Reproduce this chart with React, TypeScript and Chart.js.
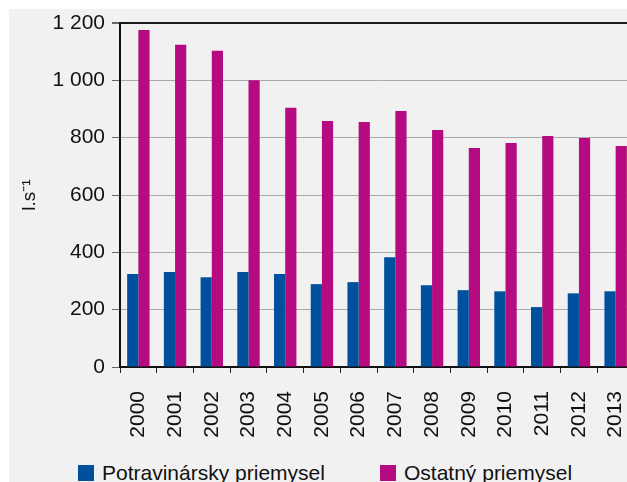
import React, { useEffect, useRef } from "react";
import { Chart, registerables } from "chart.js";

Chart.register(...registerables);

const years = ["2000","2001","2002","2003","2004","2005","2006","2007","2008","2009","2010","2011","2012","2013"];
const potravinarsky = [324, 331, 313, 331, 324, 289, 296, 383, 285, 268, 264, 209, 257, 264];
const ostatny = [1176, 1124, 1103, 1000, 904, 858, 855, 893, 827, 764, 781, 806, 799, 771];
const seriesNames = ["Potravinársky priemysel", "Ostatný priemysel"];
const yTitle = "l.s\u207B\u00B9";

const BLUE = "#00509e";
const MAGENTA = "#b60a80";
const FONT = "'Liberation Sans', Arial, Helvetica, sans-serif";

export default function App() {
  const ref = useRef<HTMLCanvasElement | null>(null);
  useEffect(() => {
    if (!ref.current) return;
    const chart = new Chart(ref.current, {
      type: "bar",
      data: {
        labels: years,
        datasets: [
          { label: seriesNames[0], data: potravinarsky, backgroundColor: BLUE, borderWidth: 0 },
          { label: seriesNames[1], data: ostatny, backgroundColor: MAGENTA, borderWidth: 0 },
        ],
      },
      options: {
        responsive: false,
        animation: false,
        devicePixelRatio: 1,
        layout: { padding: { top: 14, left: 0, right: 0, bottom: 0 } },
        datasets: { bar: { categoryPercentage: 0.61, barPercentage: 1 } },
        plugins: { legend: { display: false }, tooltip: { enabled: false } },
        scales: {
          x: {
            afterFit: (s: any) => { s.height = 73; s.paddingLeft = 0; s.paddingRight = 0; },
            grid: { drawOnChartArea: false, drawTicks: true, tickLength: 6, tickColor: "#222", offset: true },
            border: { color: "#111", width: 2 },
            ticks: { color: "#111", font: { family: FONT, size: 21 }, minRotation: 90, maxRotation: 90, padding: 18, autoSkip: false },
          },
          y: {
            min: 0,
            max: 1200,
            afterFit: (s: any) => { s.width = 111; s.paddingTop = 0; s.paddingBottom = 0; },
            grid: {
              color: (c: any) => (c.tick && c.tick.value === 1200 ? "#1a1a1a" : "#a9a9a9"),
              lineWidth: (c: any) => (c.tick && c.tick.value === 1200 ? 2 : 1),
              tickLength: 8,
              tickColor: "#666",
            },
            border: { color: "#111", width: 2 },
            ticks: {
              stepSize: 200,
              padding: 7,
              color: "#111",
              font: { family: FONT, size: 21 },
              callback: (v: any) => {
                const n = Number(v);
                return n >= 1000 ? Math.floor(n / 1000) + " " + String(n % 1000).padStart(3, "0") : String(n);
              },
            },
            title: { display: true, text: yTitle, color: "#111", font: { family: FONT, size: 19 }, padding: { top: 9, bottom: 0 } },
          },
        },
      },
    });
    return () => chart.destroy();
  }, []);

  return (
    <div style={{ position: "absolute", left: 0, top: 0, width: 627, height: 482, overflow: "hidden", background: "#ffffff" }}>
      <div style={{ position: "absolute", left: 9, top: 9, width: 640, height: 480, background: "#f1f1f1" }}>
        <canvas ref={ref} width={625} height={431} style={{ position: "absolute", left: 0, top: 0, width: 625, height: 431 }} />
      </div>
      <div style={{ position: "absolute", left: 78, top: 465, width: 16, height: 16, background: BLUE }} />
      <div style={{ position: "absolute", left: 102, top: 462, fontFamily: FONT, fontSize: 21, lineHeight: "21px", color: "#111", whiteSpace: "nowrap" }}>{seriesNames[0]}</div>
      <div style={{ position: "absolute", left: 380, top: 465, width: 16, height: 16, background: MAGENTA }} />
      <div style={{ position: "absolute", left: 404, top: 462, fontFamily: FONT, fontSize: 21, lineHeight: "21px", color: "#111", whiteSpace: "nowrap" }}>{seriesNames[1]}</div>
    </div>
  );
}
